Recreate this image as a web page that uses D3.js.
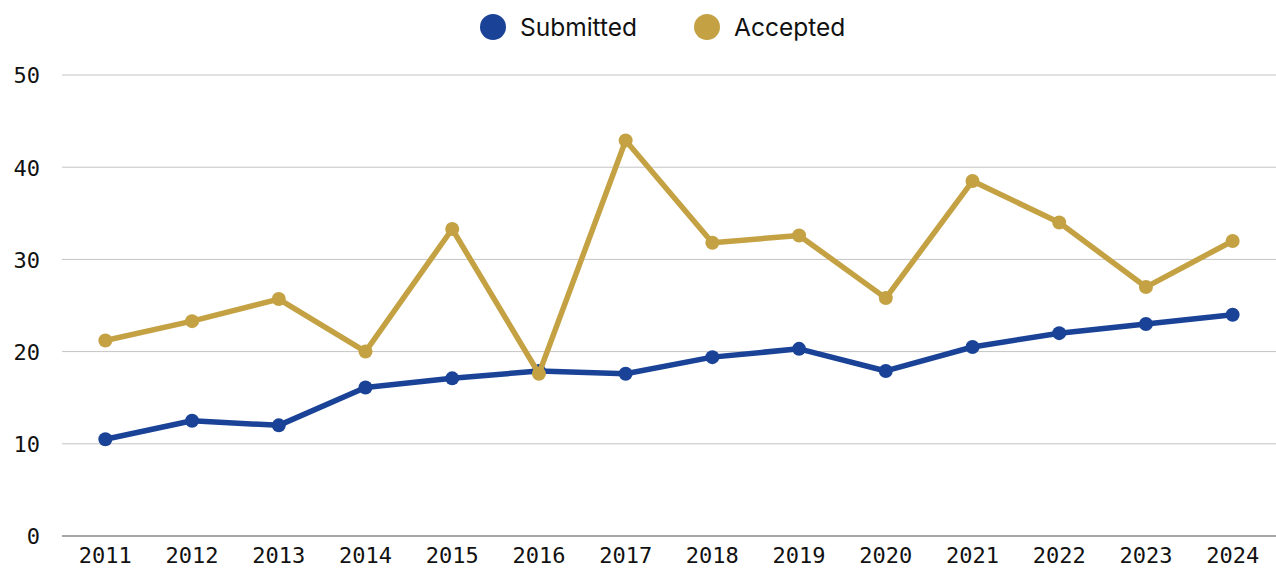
<!DOCTYPE html>
<html>
<head>
<meta charset="utf-8">
<script src="https://cdn.jsdelivr.net/npm/d3@7"></script>
<style>
  html, body { margin: 0; padding: 0; background: #fff; }
  svg { display: block; }
  .tick text { font-family: "DejaVu Sans Mono", monospace; fill: #111; }
</style>
</head>
<body>
<svg id="chart" width="1276" height="572"></svg>
<script>
const years = ["2011","2012","2013","2014","2015","2016","2017","2018","2019","2020","2021","2022","2023","2024"];
const submitted = [10.5, 12.5, 12.0, 16.1, 17.1, 17.9, 17.6, 19.4, 20.3, 17.9, 20.5, 22.0, 23.0, 24.0];
const accepted  = [21.2, 23.3, 25.7, 20.0, 33.3, 17.6, 42.9, 31.8, 32.6, 25.8, 38.5, 34.0, 27.0, 32.0];
const yTicks = [0, 10, 20, 30, 40, 50];
const seriesNames = ["Submitted", "Accepted"];
const seriesColors = ["#1a4397", "#c4a244"];

const svg = d3.select("#chart");
const margin = {left: 62, right: 0};
const W = 1276;

const x = d3.scaleBand().domain(years).range([margin.left, W - margin.right]).padding(0);
const y = d3.scaleLinear().domain([0, 50]).range([536, 75]);

// grid
svg.append("g").selectAll("line").data(yTicks).join("line")
  .attr("x1", margin.left).attr("x2", W)
  .attr("y1", d => y(d)).attr("y2", d => y(d))
  .attr("stroke", d => d === 0 ? "#8a8a8a" : "#c4c4c4")
  .attr("stroke-width", d => d === 0 ? 1.5 : 1);

// y axis
const yAxis = svg.append("g").attr("transform", "translate(40,0)")
  .call(d3.axisLeft(y).tickValues(yTicks).tickSize(0).tickPadding(0));
yAxis.select(".domain").remove();
yAxis.selectAll("text").attr("font-size", 22).attr("dy", "0.36em");

// x axis
const xAxis = svg.append("g").attr("transform", "translate(0,536)")
  .call(d3.axisBottom(x).tickSize(0).tickPadding(11));
xAxis.select(".domain").remove();
xAxis.selectAll("text").attr("font-size", 22);

const cx = d => x(d) + x.bandwidth() / 2;
const data = [submitted, accepted];

[0, 1].forEach(i => {
  const vals = data[i];
  const line = d3.line().x((d, j) => cx(years[j])).y(d => y(d));
  svg.append("path").datum(vals)
    .attr("d", line).attr("fill", "none")
    .attr("stroke", seriesColors[i]).attr("stroke-width", 5.5)
    .attr("stroke-linejoin", "round");
  svg.append("g").selectAll("circle").data(vals).join("circle")
    .attr("cx", (d, j) => cx(years[j])).attr("cy", d => y(d))
    .attr("r", 7).attr("fill", seriesColors[i]);
});

// legend
const legendX = [493, 707];
const lg = svg.append("g");
seriesNames.forEach((n, i) => {
  lg.append("circle").attr("cx", legendX[i]).attr("cy", 27).attr("r", 13).attr("fill", seriesColors[i]);
  lg.append("text").attr("x", legendX[i] + 27).attr("y", 27).attr("dy", "0.36em")
    .attr("font-family", "Inter, sans-serif").attr("font-size", 24.5).attr("fill", "#111").text(n);
});
</script>
</body>
</html>
